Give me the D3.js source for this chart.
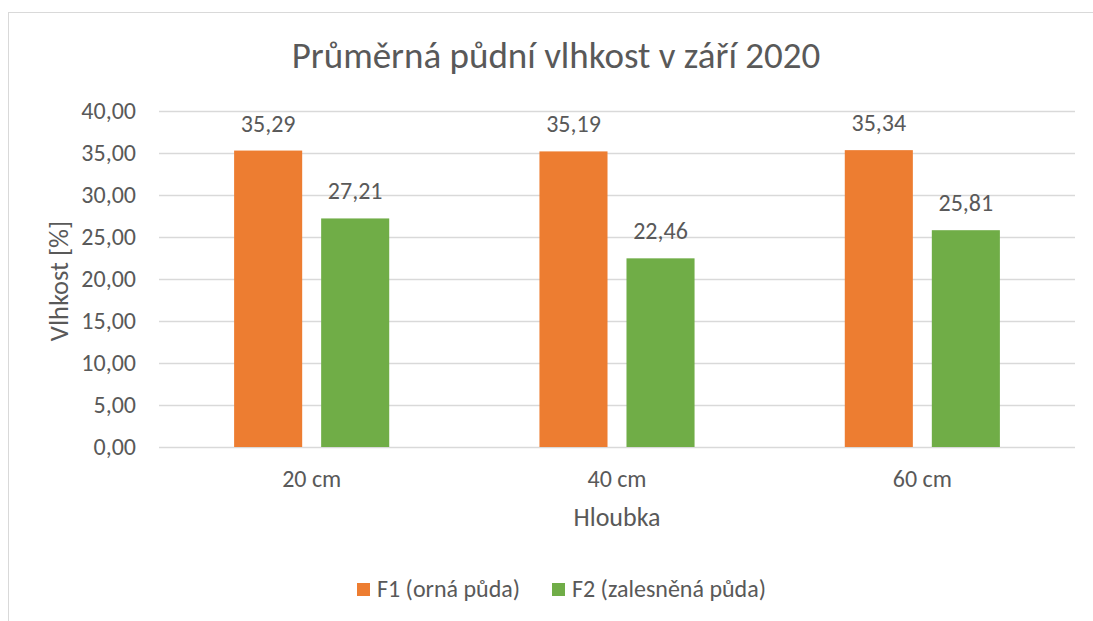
<!DOCTYPE html>
<html>
<head>
<meta charset="utf-8">
<script src="https://cdn.jsdelivr.net/npm/d3@7"></script>
<style>
  html, body { margin: 0; padding: 0; background: #fff; }
  svg text { font-family: Carlito, Calibri, Lato, sans-serif; fill: #595959; }
</style>
</head>
<body>
<svg id="chart" width="1093" height="621"></svg>
<script>
// Depth categories, series names and mean soil moisture values [%]
const categories = ["20 cm", "40 cm", "60 cm"];
const seriesNames = ["F1 (orná půda)", "F2 (zalesněná půda)"];
const f1Values = [35.29, 35.19, 35.34];
const f2Values = [27.21, 22.46, 25.81];
const yTicks = [0, 5, 10, 15, 20, 25, 30, 35, 40];
const colors = ["#ED7D31", "#70AD47"];

const seriesValues = [f1Values, f2Values];
const fmt = v => d3.format(".2f")(v).replace(".", ",");

const svg = d3.select("#chart");

// chart frame
svg.append("rect")
  .attr("x", 8.5).attr("y", 12.5)
  .attr("width", 1110).attr("height", 620)
  .attr("fill", "#fff").attr("stroke", "#D9D9D9").attr("stroke-width", 1);

const plot = { left: 159, right: 1075, top: 111, bottom: 447 };

const y = d3.scaleLinear().domain([0, 40]).range([plot.bottom, plot.top]);
const x0 = d3.scaleBand().domain(categories).range([plot.left, plot.right]);
const x1 = d3.scaleBand().domain(seriesNames)
  .range([-x0.bandwidth() * 0.254, x0.bandwidth() * 0.254])
  .paddingInner(0.218);

// gridlines
svg.append("g")
  .selectAll("line").data(yTicks).join("line")
  .attr("x1", plot.left).attr("x2", plot.right)
  .attr("y1", d => Math.round(y(d)) + 0.5).attr("y2", d => Math.round(y(d)) + 0.5)
  .attr("stroke", "#D9D9D9").attr("stroke-width", 1.3);

// y axis labels
const yAxis = d3.axisLeft(y).tickValues(yTicks).tickFormat(fmt).tickSize(0).tickPadding(23);
const gy = svg.append("g").attr("transform", `translate(${plot.left},0)`).call(yAxis);
gy.select(".domain").remove();
gy.selectAll("text").style("font-size", "24px").style("fill", "#595959");

// x axis labels
const xAxis = d3.axisBottom(x0).tickSize(0).tickPadding(23);
const gx = svg.append("g").attr("transform", `translate(0,${plot.bottom})`).call(xAxis);
gx.select(".domain").remove();
gx.selectAll("text").style("font-size", "24px").style("fill", "#595959");

// bars
const groups = svg.append("g").selectAll("g").data(categories).join("g")
  .attr("transform", c => `translate(${x0(c) + x0.bandwidth() / 2},0)`);

groups.each(function(c, i) {
  const g = d3.select(this);
  seriesNames.forEach((s, k) => {
    const v = seriesValues[k][i];
    g.append("rect")
      .attr("x", x1(s)).attr("width", x1.bandwidth())
      .attr("y", y(v)).attr("height", y(0) - y(v))
      .attr("fill", colors[k]);
    g.append("text")
      .attr("x", x1(s) + x1.bandwidth() / 2)
      .attr("y", y(v) - 19)
      .attr("text-anchor", "middle")
      .style("font-size", "24px")
      .text(fmt(v));
  });
});

// title
svg.append("text")
  .attr("x", 556).attr("y", 68)
  .attr("text-anchor", "middle")
  .style("font-size", "37px")
  .text("Průměrná půdní vlhkost v září 2020");

// axis titles
svg.append("text")
  .attr("transform", `translate(68,281) rotate(-90)`)
  .attr("text-anchor", "middle")
  .style("font-size", "26.5px")
  .text("Vlhkost [%]");

svg.append("text")
  .attr("x", (plot.left + plot.right) / 2).attr("y", 526)
  .attr("text-anchor", "middle")
  .style("font-size", "26px")
  .text("Hloubka");

// legend
const legend = svg.append("g");
const legendX = [357, 552];
seriesNames.forEach((s, k) => {
  legend.append("rect")
    .attr("x", legendX[k]).attr("y", 583)
    .attr("width", 13).attr("height", 13)
    .attr("fill", colors[k]);
  legend.append("text")
    .attr("x", legendX[k] + 20).attr("y", 597)
    .style("font-size", "24px")
    .text(s);
});
</script>
</body>
</html>
